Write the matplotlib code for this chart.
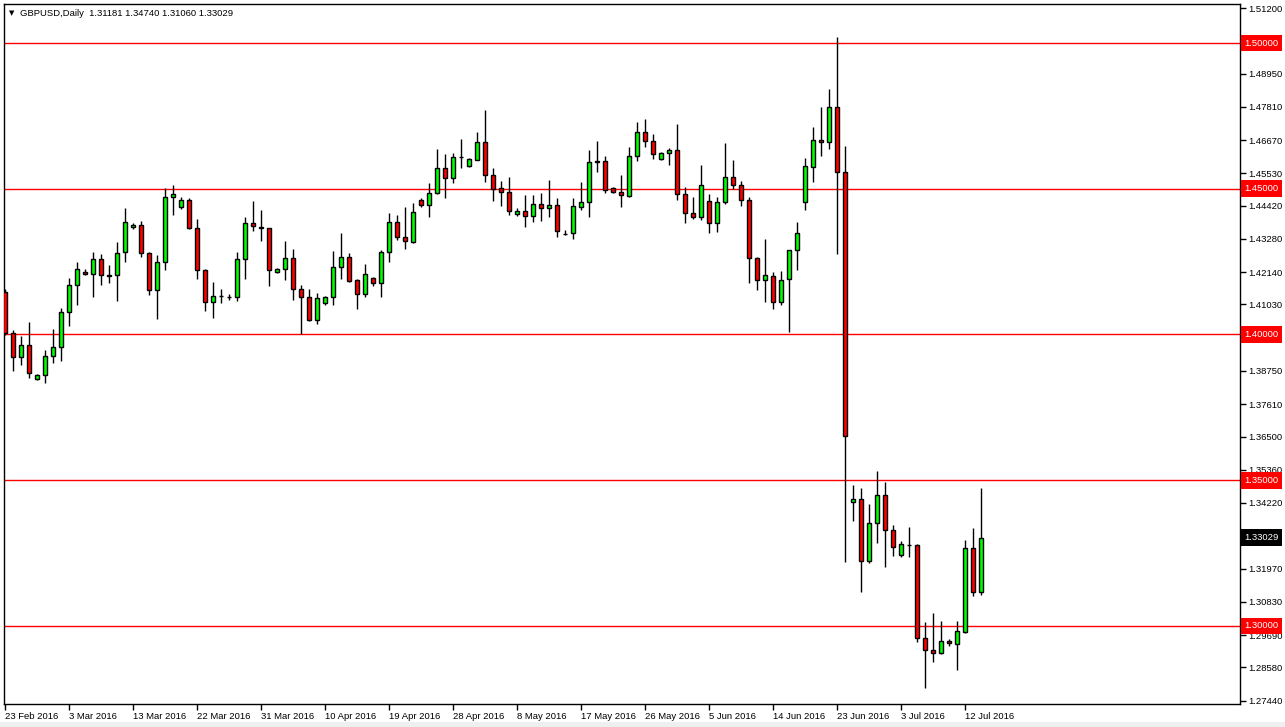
import matplotlib
matplotlib.use("Agg")
import matplotlib.pyplot as plt
import matplotlib.transforms as mtransforms

plt.rcParams["font.family"] = ["Liberation Sans", "DejaVu Sans"]

# GBPUSD daily OHLC, 23 Feb 2016 .. 14 Jul 2016 (MT4 incl. Sunday bars)
opens = [1.4145, 1.4004, 1.3924, 1.3963, 1.3849, 1.3860, 1.3925, 1.3956, 1.4076, 1.4169,
         1.4214, 1.4207, 1.4258, 1.4204, 1.4203, 1.4282, 1.4368, 1.4375, 1.4279, 1.4152,
         1.4248, 1.4471, 1.4436, 1.4460, 1.4364, 1.4221, 1.4111, 1.4132, 1.4129, 1.4128,
         1.4258, 1.4382, 1.4368, 1.4364, 1.4216, 1.4224, 1.4262, 1.4156, 1.4128, 1.4049,
         1.4109, 1.4128, 1.4231, 1.4265, 1.4186, 1.4138, 1.4193, 1.4176, 1.4282, 1.4385,
         1.4334, 1.4318, 1.4461, 1.4443, 1.4484, 1.4570, 1.4536, 1.4610, 1.4579, 1.4599,
         1.4659, 1.4546, 1.4502, 1.4488, 1.4412, 1.4423, 1.4408, 1.4447, 1.4433, 1.4443,
         1.4345, 1.4347, 1.4439, 1.4454, 1.4593, 1.4595, 1.4503, 1.4489, 1.4476, 1.4612,
         1.4694, 1.4663, 1.4601, 1.4622, 1.4632, 1.4481, 1.4416, 1.4402, 1.4458, 1.4384,
         1.4454, 1.4539, 1.4512, 1.4460, 1.4262, 1.4186, 1.4201, 1.4113, 1.4189, 1.4289,
         1.4456, 1.4576, 1.4668, 1.4662, 1.4782, 1.4557, 1.3425, 1.3435, 1.3222, 1.3353,
         1.3449, 1.3329, 1.3243, 1.3278, 1.3277, 1.2958, 1.2917, 1.2907, 1.2948, 1.2939,
         1.2981, 1.3267, 1.31181]
highs = [1.4156, 1.4016, 1.3995, 1.4044, 1.3865, 1.3947, 1.4018, 1.4090, 1.4194, 1.4248,
         1.4224, 1.4283, 1.4276, 1.4238, 1.4317, 1.4433, 1.4382, 1.4388, 1.4283, 1.4272,
         1.4502, 1.4513, 1.4472, 1.4467, 1.4396, 1.4225, 1.4179, 1.4156, 1.4139, 1.4283,
         1.4404, 1.4458, 1.4427, 1.4365, 1.4227, 1.4321, 1.4293, 1.4169, 1.4156, 1.4144,
         1.4131, 1.4287, 1.4348, 1.4280, 1.4192, 1.4241, 1.4196, 1.4290, 1.4417, 1.4410,
         1.4437, 1.4450, 1.4467, 1.4519, 1.4636, 1.4619, 1.4624, 1.4671, 1.4605, 1.4695,
         1.4770, 1.4571, 1.4526, 1.4539, 1.4433, 1.4479, 1.4478, 1.4484, 1.4530, 1.4467,
         1.4359, 1.4468, 1.4523, 1.4633, 1.4664, 1.4612, 1.4507, 1.4547, 1.4642, 1.4729,
         1.4739, 1.4688, 1.4626, 1.4639, 1.4722, 1.4505, 1.4471, 1.4582, 1.4482, 1.4471,
         1.4658, 1.4599, 1.4528, 1.4471, 1.4267, 1.4328, 1.4214, 1.4217, 1.4290, 1.4385,
         1.4607, 1.4713, 1.4779, 1.4841, 1.5021, 1.4648, 1.3484, 1.3473, 1.3419, 1.3532,
         1.3494, 1.3347, 1.3292, 1.3339, 1.3281, 1.3013, 1.3044, 1.3016, 1.2955, 1.3016,
         1.3295, 1.3335, 1.34740]
lows = [1.3998, 1.3876, 1.3896, 1.3850, 1.3845, 1.3833, 1.3901, 1.3910, 1.4030, 1.4101,
        1.4204, 1.4130, 1.4171, 1.4176, 1.4114, 1.4250, 1.4363, 1.4267, 1.4137, 1.4052,
        1.4221, 1.4409, 1.4431, 1.4362, 1.4189, 1.4080, 1.4055, 1.4107, 1.4117, 1.4116,
        1.4191, 1.4356, 1.4322, 1.4167, 1.4210, 1.4187, 1.4118, 1.4002, 1.4045, 1.4036,
        1.4102, 1.4102, 1.4192, 1.4180, 1.4087, 1.4130, 1.4167, 1.4128, 1.4250, 1.4324,
        1.4295, 1.4313, 1.4436, 1.4402, 1.4482, 1.4469, 1.4521, 1.4572, 1.4576, 1.4597,
        1.4524, 1.4459, 1.4441, 1.4411, 1.4408, 1.4370, 1.4387, 1.4390, 1.4402, 1.4336,
        1.4341, 1.4329, 1.4427, 1.4402, 1.4559, 1.4484, 1.4487, 1.4439, 1.4473, 1.4596,
        1.4642, 1.4602, 1.4599, 1.4582, 1.4461, 1.4384, 1.4397, 1.4393, 1.4349, 1.4353,
        1.4448, 1.4500, 1.4441, 1.4178, 1.4153, 1.4112, 1.4089, 1.4102, 1.4009, 1.4220,
        1.4427, 1.4524, 1.4612, 1.4636, 1.4275, 1.3221, 1.3361, 1.3116, 1.3215, 1.3284,
        1.3204, 1.3241, 1.3238, 1.3238, 1.2946, 1.2789, 1.2876, 1.2904, 1.2932, 1.2849,
        1.2975, 1.3103, 1.31060]
closes = [1.4004, 1.3924, 1.3963, 1.3867, 1.3860, 1.3925, 1.3956, 1.4077, 1.4170, 1.4224,
          1.4207, 1.4258, 1.4203, 1.4202, 1.4281, 1.4385, 1.4375, 1.4279, 1.4152, 1.4248,
          1.4471, 1.4481, 1.4460, 1.4364, 1.4221, 1.4111, 1.4131, 1.4133, 1.4127, 1.4258,
          1.4382, 1.4371, 1.4366, 1.4220, 1.4225, 1.4262, 1.4155, 1.4128, 1.4049, 1.4125,
          1.4128, 1.4231, 1.4265, 1.4185, 1.4138, 1.4207, 1.4176, 1.4282, 1.4385, 1.4334,
          1.4320, 1.4419, 1.4443, 1.4484, 1.4570, 1.4536, 1.4608, 1.4609, 1.4601, 1.4659,
          1.4546, 1.4500, 1.4488, 1.4423, 1.4423, 1.4408, 1.4447, 1.4433, 1.4443, 1.4356,
          1.4344, 1.4441, 1.4454, 1.4592, 1.4594, 1.4495, 1.4489, 1.4478, 1.4612, 1.4694,
          1.4663, 1.4618, 1.4623, 1.4632, 1.4481, 1.4416, 1.4402, 1.4512, 1.4384, 1.4454,
          1.4539, 1.4512, 1.4460, 1.4262, 1.4186, 1.4204, 1.4113, 1.4188, 1.4289, 1.4347,
          1.4579, 1.4668, 1.4661, 1.4782, 1.4557, 1.3651, 1.3435, 1.3222, 1.3353, 1.3449,
          1.3329, 1.3270, 1.3281, 1.3277, 1.2958, 1.2917, 1.2907, 1.2948, 1.2940, 1.2982,
          1.3267, 1.3116, 1.33029]

date_labels = ["23 Feb 2016", "3 Mar 2016", "13 Mar 2016", "22 Mar 2016", "31 Mar 2016",
               "10 Apr 2016", "19 Apr 2016", "28 Apr 2016", "8 May 2016", "17 May 2016",
               "26 May 2016", "5 Jun 2016", "14 Jun 2016", "23 Jun 2016", "3 Jul 2016",
               "12 Jul 2016"]
price_ticks = [1.51200, 1.48950, 1.47810, 1.46670, 1.45530, 1.44420, 1.43280, 1.42140,
               1.41030, 1.39890, 1.38750, 1.37610, 1.36500, 1.35360, 1.34220, 1.31970,
               1.30830, 1.29690, 1.28580, 1.27440]
levels = [1.50, 1.45, 1.40, 1.35, 1.30]
last_price = 1.33029

FS = 6.8

fig = plt.figure(figsize=(12.85, 7.27), dpi=100)
# light grey strip under the chart window, like the terminal frame
fig.patches.append(plt.Rectangle((0, 0), 1, 5/727, transform=fig.transFigure,
                                 fc="#EFEFEF", ec="none", zorder=0))
ax = fig.add_axes([4/1285, 23/727, 1236/1285, 700/727])

n = len(opens)
xs = list(range(n))
for i in xs:
    ax.vlines(i, lows[i], highs[i], color="black", lw=1, zorder=2)
bull = [c >= o for o, c in zip(opens, closes)]
bottoms = [min(o, c) for o, c in zip(opens, closes)]
heights = [max(abs(c - o), 0.00004) for o, c in zip(opens, closes)]
colors = ["#00FF00" if b else "#FF0000" for b in bull]
ax.bar(xs, heights, bottom=bottoms, width=0.62, color=colors,
       edgecolor="black", linewidth=1, zorder=3)

for lv in levels:
    ax.axhline(lv, color="#FF0000", lw=1, zorder=1)

ax.set_xlim(-0.125, 154.375)
ax.set_ylim(1.27324, 1.51338)

ax.yaxis.tick_right()
ax.set_yticks(price_ticks)
ax.set_yticklabels([f"{p:.5f}" for p in price_ticks], fontsize=FS)
ax.tick_params(axis="y", length=4, width=1, pad=2, direction="out")

ax.set_xticks(list(range(0, 8 * len(date_labels), 8)))
ax.set_xticklabels(date_labels, fontsize=FS)
ax.tick_params(axis="x", length=4, width=1, pad=2, direction="out")
for lab in ax.get_xticklabels():
    lab.set_horizontalalignment("left")

for s in ax.spines.values():
    s.set_color("black")
    s.set_linewidth(1)

# price boxes on the right scale
trans = mtransforms.blended_transform_factory(ax.transAxes, ax.transData)
for lv in levels:
    ax.text(1.0035, lv, f"{lv:.5f}", transform=trans, fontsize=FS, color="white",
            va="center", ha="left", clip_on=False, zorder=5,
            bbox=dict(boxstyle="square,pad=0.4", fc="#FF0000", ec="none"))
ax.text(1.0035, last_price, f"{last_price:.5f}", transform=trans, fontsize=FS,
        color="white", va="center", ha="left", clip_on=False, zorder=5,
        bbox=dict(boxstyle="square,pad=0.4", fc="black", ec="none"))

fig.text(9/1285, 1 - 13/727, "\u25bc", fontsize=5, va="center", ha="left",
         family="DejaVu Sans")
fig.text(20/1285, 1 - 13/727, "GBPUSD,Daily  1.31181 1.34740 1.31060 1.33029",
         fontsize=FS, va="center", ha="left")

fig.savefig("out.png", dpi=100, facecolor="white")
